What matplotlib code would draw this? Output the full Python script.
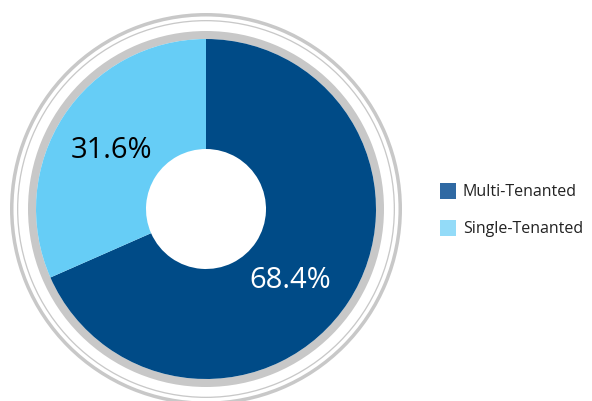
import matplotlib
matplotlib.use("Agg")
import matplotlib.pyplot as plt
from matplotlib.patches import Circle, Wedge, Rectangle

plt.rcParams['font.family'] = ['Open Sans', 'DejaVu Sans']

categories = ["Multi-Tenanted", "Single-Tenanted"]
shares = [68.4, 31.6]
labels = ["68.4%", "31.6%"]
pie_colors = ["#004b87", "#66cdf6"]
legend_colors = ["#2f69a3", "#93dbf8"]

W, H = 592, 401
fig = plt.figure(figsize=(W / 100, H / 100), dpi=100)
ax = fig.add_axes([0, 0, 1, 1])

cx, cy = 206, H - 209

# outer decorative rings
ax.add_patch(Wedge((cx, cy), 196, 0, 360, width=3.5, color="#c8c8c8", lw=0))
ax.add_patch(Wedge((cx, cy), 189, 0, 360, width=1.3, color="#c8c8c8", lw=0))
ax.add_patch(Wedge((cx, cy), 178, 0, 360, width=8, color="#c8c8c8", lw=0))

wedges, _ = ax.pie(shares, colors=pie_colors, startangle=90, counterclock=False,
                   center=(cx, cy), radius=170, wedgeprops=dict(width=110, linewidth=0))

ax.text(290, H - 281, labels[0], color="white", fontsize=21, ha="center", va="center")
ax.text(111, H - 151, labels[1], color="black", fontsize=21, ha="center", va="center")

# legend
for i, (name, col) in enumerate(zip(categories, legend_colors)):
    y = 191 + i * 37
    ax.add_patch(Rectangle((440, H - y - 8), 16, 16, color=col, lw=0))
    ax.text(463, H - y - 1, name, fontsize=11.5, color="#222222", ha="left", va="center")

ax.set_xlim(0, W)
ax.set_ylim(0, H)
ax.set_aspect("equal")
ax.axis("off")

fig.savefig("out.png", dpi=100)
